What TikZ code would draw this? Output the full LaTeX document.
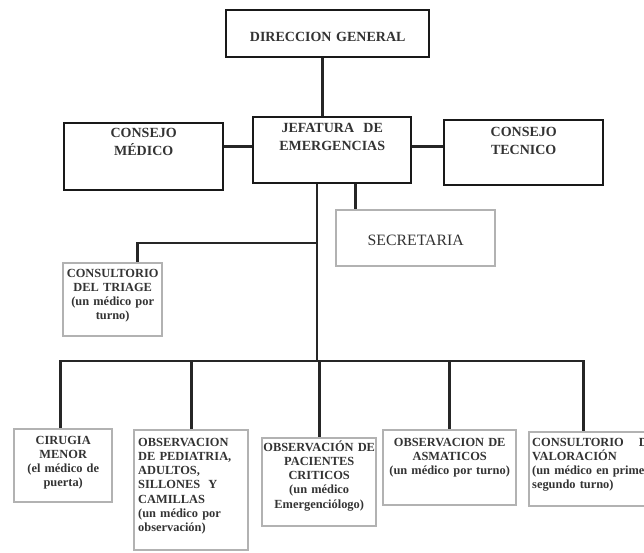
\documentclass[tikz,border=0pt]{standalone}
\usepackage{fontspec}
\setmainfont{Liberation Serif}
\tikzset{
  topbox/.style={draw=black!90, line width=2.4pt, anchor=north west, inner sep=0pt},
  subbox/.style={draw=black!30, line width=2.4pt, anchor=north west, inner sep=0pt},
  toptext/.style={font=\fontsize{14}{18}\selectfont\bfseries, text=black!80, text width=#1, align=center, anchor=base, inner sep=0pt},
  subtext/.style={font=\fontsize{12.4}{14.3}\selectfont\bfseries, text=black!80, text width=#1, align=center, anchor=base, inner sep=0pt},
  link/.style={draw=black!85, line width=2.6pt, line join=miter},
}
\begin{document}
\begin{tikzpicture}[x=1pt,y=-1pt]
    \useasboundingbox (0,0) rectangle (644,552);
    \clip (0,0) rectangle (644,552);
    %% upper level
    \node[topbox,minimum width=203,minimum height=47] (dg) at (225,9) {};
    \node[toptext=190] (dgtxt) at ([yshift=-32.4pt]dg.north) {DIRECCION GENERAL};
    \node[topbox,minimum width=158,minimum height=66] (jef) at (252,116) {};
    \node[toptext=150] (jeftxt) at ([yshift=-16.4pt]jef.north) {JEFATURA\ \ DE\\EMERGENCIAS};
    \node[topbox,minimum width=159,minimum height=67] (medico) at (63,122) {};
    \node[toptext=150] (medicotxt) at ([yshift=-15.4pt]medico.north) {CONSEJO\\MÉDICO};
    \node[topbox,minimum width=159,minimum height=65] (tecnico) at (443,119) {};
    \node[toptext=150] (tecnicotxt) at ([yshift=-17.4pt]tecnico.north) {CONSEJO\\TECNICO};
    %% staff
    \node[subbox,minimum width=159,minimum height=56] (sec) at (335,209) {};
    \node[subtext=150,font=\fontsize{15.8}{18}\selectfont] (sectxt) at ([yshift=-36pt]sec.north) {SECRETARIA};
    \node[subbox,minimum width=99,minimum height=73] (triage) at (62,262) {};
    \node[subtext=95] (triagetxt) at ([yshift=-15pt]triage.north) {CONSULTORIO\\DEL TRIAGE\\(un médico por\\turno)};
    %% lower level
    \node[subbox,minimum width=98,minimum height=73] (cir) at (13,428) {};
    \node[subtext=94] (cirtxt) at ([yshift=-16pt]cir.north) {CIRUGIA\\MENOR\\(el médico de\\puerta)};
    \node[subbox,minimum width=114,minimum height=120] (ped) at (133,429) {};
    \node[subtext=106,align=left] (pedtxt) at ([yshift=-17pt]ped.north) {OBSERVACION\\DE PEDIATRIA,\\ADULTOS,\\SILLONES\ \ Y\\CAMILLAS\\(un médico por\\observación)};
    \node[subbox,minimum width=114,minimum height=88] (cri) at (261,437) {};
    \node[subtext=112] (critxt) at ([yshift=-14pt]cri.north) {OBSERVACIÓN DE\\PACIENTES\\CRITICOS\\(un médico\\Emergenciólogo)};
    \node[subbox,minimum width=133,minimum height=75] (asm) at (382,429) {};
    \node[subtext=129] (asmtxt) at ([yshift=-17pt]asm.north) {OBSERVACION DE\\ASMATICOS\\(un médico por turno)};
    \node[subbox,minimum width=130,minimum height=74] (val) at (528,431) {};
    \node[subtext=124,align=left] (valtxt) at ([yshift=-15pt]val.north) {CONSULTORIO\hfill DE\\VALORACIÓN\\\makebox[124pt][s]{(un médico en primer y}\\segundo turno)};
    %% connectors
    \coordinate (bus) at (317,361);
    \coordinate (tri) at (317,243);
    \draw[link] ([xshift=-5.5pt]dg.south) -- ([xshift=-5.5pt]dg.south |- jef.north);
    \draw[link] ([yshift=4pt]jef.west) -- ([yshift=4pt]jef.west -| medico.east);
    \draw[link] ([yshift=4pt]jef.east) -- ([yshift=4pt]jef.east -| tecnico.west);
    \draw[link] (jef.south -| bus) -- (bus);
    \draw[link] ([xshift=23pt]jef.south) -- ([xshift=23pt]jef.south |- sec.north);
    \draw[link] (tri) -| ([xshift=24.5pt]triage.north);
    \draw[link] ([xshift=-3pt]cir.north) -- ([xshift=-3pt]cir.north |- bus) -- ([xshift=-11pt]val.north |- bus) -- ([xshift=-11pt]val.north);
    \foreach \b in {ped,cri,asm}
        \draw[link] (\b.north |- bus) -- (\b.north);
\end{tikzpicture}
\end{document}
